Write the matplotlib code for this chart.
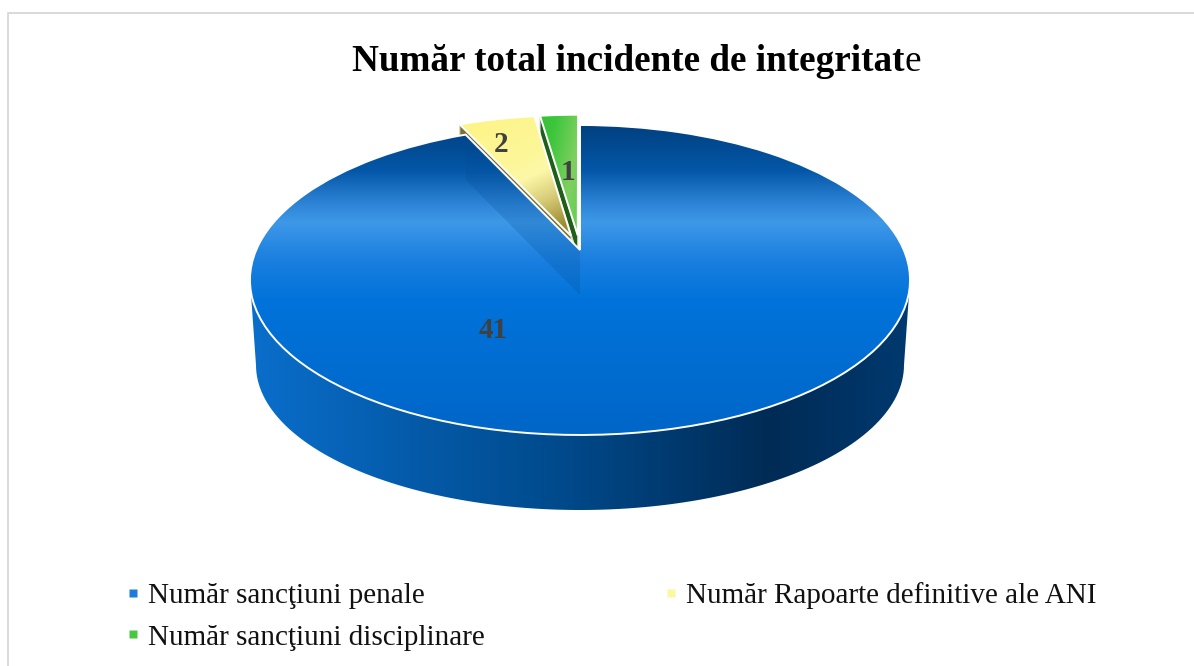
import numpy as np
import matplotlib
matplotlib.use('Agg')
import matplotlib.pyplot as plt
from matplotlib.lines import Line2D
from matplotlib.patches import Polygon
from matplotlib.transforms import Transform

W, H = 1194, 666

TITLE_BOLD = 'Număr total incidente de integritat'
TITLE_REST = 'e'
categories = ['Număr sancţiuni penale', 'Număr Rapoarte definitive ale ANI', 'Număr sancţiuni disciplinare']
values = [41, 2, 1]
explode = [0, 0.1, 0.1]
label_pos = [(493, 330), (501, 145), (568, 172)]
legend_colors = ['#1f7ad8', '#fbf8a0', '#48c840']

# unit circle -> picture pixels, the pie is seen in perspective
CX, S, A, B, C = 580, 323.8, -100.8, 250, 0.1935


def project(u, v):
    d = 1 + C * v
    return CX + S * u / d, (A * v + B) / d


class TopProjection(Transform):
    input_dims = 2
    output_dims = 2

    def transform_non_affine(self, values):
        values = np.asarray(values)
        x, y = project(values[:, 0], values[:, 1])
        return np.column_stack((x, y))


def ramp(stops, t):
    pos = [s[0] for s in stops]
    rgb = np.array([matplotlib.colors.to_rgb(s[1]) for s in stops])
    return np.stack([np.interp(t, pos, rgb[:, i]) for i in range(3)], axis=-1)


def edge_point(theta, center=(0, 0)):
    a = np.deg2rad(theta)
    return project(center[0] + np.cos(a), center[1] + np.sin(a))


fig = plt.figure(figsize=(W / 100, H / 100), dpi=100)
ax = fig.add_axes([0, 0, 1, 1])

wedges, _ = ax.pie(values, explode=explode, startangle=90, counterclock=False,
                   radius=1, wedgeprops=dict(edgecolor='white', linewidth=1.4))
ax.set_aspect('auto')
proj = TopProjection() + ax.transData
for w in wedges:
    w.set_transform(proj)
    w.set_facecolor('none')
blue, yellow, green = wedges

# outer wall
ang = np.deg2rad(np.linspace(180, 360, 120))
top_x = 580 + 330 * np.cos(ang)
top_y = 280 - 155 * np.sin(ang)
low_x = 580 + 324 * np.cos(ang[::-1])
low_y = 365 - 145 * np.sin(ang[::-1])
wall = Polygon(np.column_stack((np.r_[top_x, low_x], np.r_[top_y, low_y])), fc='none', ec='none', zorder=1)
ax.add_patch(wall)
xx = np.linspace(245, 915, 256)
wall_img = ramp([(245, '#0a6fcc'), (400, '#055cac'), (560, '#004a8c'), (770, '#002b55'), (915, '#003a70')], xx)[None, :, :]
im = ax.imshow(wall_img, extent=(245, 915, 520, 270), aspect='auto', zorder=1, interpolation='bilinear')
im.set_clip_path(wall)

# blue top
yy = np.linspace(120, 440, 320)
blue_img = ramp([(125, '#014080'), (170, '#0457a8'), (205, '#2f86d8'), (222, '#3e98e8'),
                 (260, '#1a7fdf'), (300, '#0073da'), (435, '#0066c8')], yy)[:, None, :]
im = ax.imshow(blue_img, extent=(245, 915, 440, 120), aspect='auto', zorder=3, interpolation='bilinear')
im.set_clip_path(blue)
blue.set_zorder(4)

# darker band below the cut edge of the blue slice
ex, ey = edge_point(blue.theta1)
cx, cy = project(0, 0)
band = Polygon([(ex, ey), (cx, cy), (cx, cy + 45), (ex, ey + 45)], fc='#004a90', ec='none', alpha=0.2, zorder=3.5)
ax.add_patch(band)
band.set_clip_path(blue)

# side walls of the two pulled out slices
for w, color, drop in [(yellow, '#7a7030', 14), (green, '#1f5f1a', 20)]:
    cen = w.center
    x0, y0 = project(cen[0], cen[1])
    x1, y1 = edge_point(w.theta2, cen)
    ax.add_patch(Polygon([(x0, y0), (x1, y1), (x1, y1 + drop), (x0, y0 + drop)],
                         fc=color, ec='#d8d8d0', lw=0.8, zorder=2))

# yellow and green tops
gx, gy = np.meshgrid(np.linspace(450, 582, 132), np.linspace(110, 240, 130))
t = (gy - 170) + (gx - 500) * 0.45
yellow_img = ramp([(-60, '#fdf488'), (0, '#fdf79a'), (20, '#fcf8a8'), (50, '#d8cc78'), (85, '#9a8a30')], t)
im = ax.imshow(yellow_img, extent=(450, 582, 240, 110), aspect='auto', zorder=5, interpolation='bilinear')
im.set_clip_path(yellow)
yellow.set_zorder(6)

gx, gy = np.meshgrid(np.linspace(535, 582, 47), np.linspace(110, 240, 130))
t = (gx - 535) + (gy - 110) * 0.2
green_img = ramp([(0, '#35c035'), (22, '#3cc63c'), (50, '#7fd060'), (70, '#60cc50')], t)
im = ax.imshow(green_img, extent=(535, 582, 240, 110), aspect='auto', zorder=5, interpolation='bilinear')
im.set_clip_path(green)
green.set_zorder(6)

ax.set_xlim(0, W)
ax.set_ylim(H, 0)
ax.axis('off')

for v, (lx, ly) in zip(values, label_pos):
    ax.text(lx, ly, str(v), ha='center', va='center', family='Liberation Serif', fontweight='bold',
            fontsize=21, color='#404040', zorder=10)

# chart border, only top and left are in the crop
ax.plot([8, 8, W], [H, 12.5, 12.5], color='#d9d9d9', lw=1.4, zorder=0.5, clip_on=False)

# title, the last letter is not bold
t1 = ax.text(352, 71, TITLE_BOLD, family='Liberation Serif', fontweight='bold', fontsize=26.75, color='black')
fig.canvas.draw()
box = t1.get_window_extent()
ax.text(box.x1, 71, TITLE_REST, family='Liberation Serif', fontsize=26.75, color='black')

order = [0, 2, 1]
handles = [Line2D([], [], ls='none', marker='s', ms=5.8, mfc=legend_colors[i], mec='none') for i in order]
labels = [categories[i] for i in order]
leg = fig.legend(handles, labels, ncol=2, loc='upper left', bbox_to_anchor=(118.4 / W, 1 - 582 / H), frameon=False,
                 prop={'family': 'Liberation Serif', 'size': 21}, handlelength=1.0, handletextpad=0.0,
                 columnspacing=5.9, labelspacing=0.52, borderpad=0, borderaxespad=0)
for text in leg.get_texts():
    text.set_color('#111111')

fig.savefig('out.png', dpi=100)
